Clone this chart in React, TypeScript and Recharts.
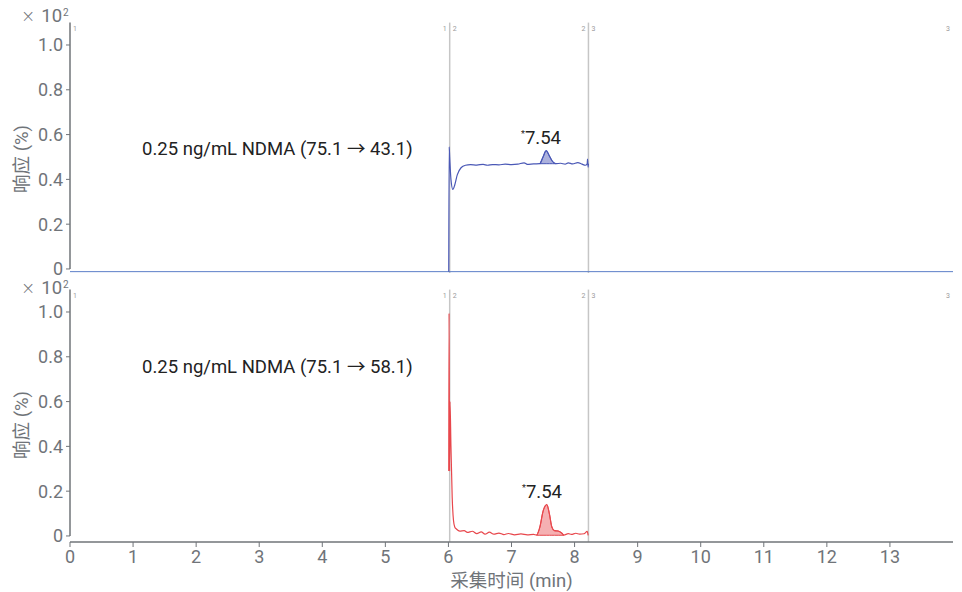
import React from 'react';
import { ComposedChart, Line, Area, XAxis, YAxis, ReferenceLine } from 'recharts';

const xTicks = [0, 1, 2, 3, 4, 5, 6, 7, 8, 9, 10, 11, 12, 13];
const yTicks = [0, 0.2, 0.4, 0.6, 0.8, 1.0];
const windowStart = 6.02;
const windowEnd = 8.22;
const peakRT = '7.54';
const titleTop = '0.25 ng/mL NDMA (75.1 → 43.1)';
const titleBottom = '0.25 ng/mL NDMA (75.1 → 58.1)';
const xLabel = '采集时间 (min)';
const yLabel = '响应 (%)';

// Top trace (75.1 -> 43.1)
const topTime = [6.005, 6.012, 6.02, 6.04, 6.07, 6.1, 6.14, 6.2, 6.27, 6.35, 6.45, 6.55, 6.62, 6.7, 6.8, 6.9, 7.0, 7.1, 7.2, 7.25, 7.35, 7.45, 7.5, 7.55, 7.6, 7.65, 7.7, 7.78, 7.85, 7.9, 7.97, 8.05, 8.12, 8.17, 8.2, 8.205, 8.215, 8.22];
const topResp = [-0.012, 0.545, 0.5, 0.4, 0.355, 0.375, 0.42, 0.452, 0.463, 0.466, 0.464, 0.467, 0.463, 0.466, 0.465, 0.468, 0.466, 0.468, 0.474, 0.467, 0.469, 0.47, 0.5, 0.528, 0.505, 0.48, 0.47, 0.472, 0.468, 0.474, 0.469, 0.475, 0.468, 0.463, 0.47, 0.49, 0.455, 0.47];
const topPeakTime = [7.45, 7.5, 7.55, 7.6, 7.65, 7.7];
const topPeakResp = [0.47, 0.5, 0.528, 0.505, 0.48, 0.47];
const topPeakBase = 0.47;
const topBaseline = -0.012;

// Bottom trace (75.1 -> 58.1)
const botTime = [6.005, 6.01, 6.018, 6.025, 6.04, 6.06, 6.08, 6.1, 6.13, 6.18, 6.25, 6.3, 6.38, 6.45, 6.52, 6.58, 6.65, 6.72, 6.8, 6.88, 6.95, 7.05, 7.15, 7.25, 7.35, 7.4, 7.45, 7.5, 7.56, 7.6, 7.64, 7.68, 7.74, 7.8, 7.83, 7.9, 7.95, 8.02, 8.08, 8.15, 8.2, 8.215];
const botResp = [0.29, 0.995, 0.29, 0.6, 0.4, 0.17, 0.07, 0.04, 0.03, 0.022, 0.024, 0.016, 0.021, 0.01, 0.018, 0.008, 0.017, 0.008, 0.013, 0.006, 0.011, 0.005, 0.009, 0.005, 0.007, 0.004, 0.04, 0.11, 0.14, 0.1, 0.04, 0.024, 0.022, 0.012, 0.004, 0.01, 0.007, 0.012, 0.008, 0.01, 0.02, 0.003];
const botPeakTime = [7.4, 7.45, 7.5, 7.56, 7.6, 7.64, 7.68, 7.74, 7.8, 7.83];
const botPeakResp = [0.004, 0.04, 0.11, 0.14, 0.1, 0.04, 0.024, 0.022, 0.012, 0.004];
const botPeakBase = 0.003;

const topData = topTime.map((x, i) => ({ x, y: topResp[i] }));
const topPeak = topPeakTime.map((x, i) => ({ x, r: [topPeakBase, topPeakResp[i]] }));
const botData = botTime.map((x, i) => ({ x, y: botResp[i] }));
const botPeak = botPeakTime.map((x, i) => ({ x, r: [botPeakBase, botPeakResp[i]] }));

const FONT = "Roboto, 'Noto Sans CJK SC', sans-serif";
const AXIS = '#707479';
const GRID = '#c6c6c6';
const MARK = { fontSize: 7, fill: '#9a9a9a', fontFamily: FONT };

const fmtY = (v: number) => (v === 0 ? '0' : v.toFixed(1));

function markers() {
  return [
    <ReferenceLine key="m0" x={0} stroke="none" label={{ value: '1', position: 'insideTopLeft', offset: 3, ...MARK }} />,
    <ReferenceLine key="m1a" x={windowStart} stroke={GRID} strokeWidth={1.5} label={{ value: '1', position: 'insideTopRight', offset: 3, ...MARK }} />,
    <ReferenceLine key="m1b" x={windowStart} stroke="none" label={{ value: '2', position: 'insideTopLeft', offset: 3, ...MARK }} />,
    <ReferenceLine key="m2a" x={windowEnd} stroke={GRID} strokeWidth={1.5} label={{ value: '2', position: 'insideTopRight', offset: 3, ...MARK }} />,
    <ReferenceLine key="m2b" x={windowEnd} stroke="none" label={{ value: '3', position: 'insideTopLeft', offset: 3, ...MARK }} />,
    <ReferenceLine key="m3" x={14} stroke="none" label={{ value: '3', position: 'insideTopRight', offset: 3, ...MARK }} />,
    <ReferenceLine key="yax" segment={[{ x: 0, y: 0 }, { x: 0, y: 1.1 }]} stroke={AXIS} strokeWidth={1.5} />,
  ];
}

const tickStyle = { fontSize: 18, fill: AXIS, fontFamily: FONT };

function Exp({ top }: { top: number }) {
  return (
    <div style={{ position: 'absolute', left: 21, top, height: 14, fontSize: 18.5, lineHeight: '14px', color: AXIS, fontFamily: FONT, whiteSpace: 'nowrap' }}>
      <span style={{ fontFamily: "'DejaVu Sans', sans-serif", fontSize: 17, fontWeight: 300 }}>×</span>
      <span style={{ marginLeft: 6 }}>10</span>
      <span style={{ fontSize: 10, lineHeight: '8px', verticalAlign: 6, marginLeft: 1 }}>2</span>
    </div>
  );
}

function YLab({ cy }: { cy: number }) {
  return (
    <div style={{ position: 'absolute', left: 20, top: cy, transform: 'translate(-50%, -50%) rotate(-90deg)', fontSize: 18.5, color: AXIS, fontFamily: FONT, whiteSpace: 'nowrap' }}>
      {yLabel}
    </div>
  );
}

function Title({ text, cy }: { text: string; cy: number }) {
  return (
    <div style={{ position: 'absolute', left: 142, top: cy - 11, fontSize: 18.5, lineHeight: '22px', color: '#222', fontFamily: FONT, whiteSpace: 'nowrap' }}>
      {text}
    </div>
  );
}

function RT({ cx, cy }: { cx: number; cy: number }) {
  return (
    <div style={{ position: 'absolute', left: cx, top: cy - 11, transform: 'translateX(-50%)', fontSize: 18.5, lineHeight: '22px', color: '#222', fontFamily: FONT, whiteSpace: 'nowrap' }}>
      <span style={{ fontSize: 9, position: 'relative', top: -7 }}>*</span>{peakRT}
    </div>
  );
}

export default function App() {
  return (
    <div style={{ position: 'absolute', left: 0, top: 0, width: 962, height: 592, background: '#fff', fontFamily: FONT }}>
      <div style={{ position: 'absolute', left: 0, top: 0 }}>
        <ComposedChart width={962} height={280} margin={{ top: 22.6, right: 9, bottom: 7, left: 8 }}>
          <XAxis type="number" dataKey="x" domain={[0, 14]} ticks={xTicks} height={0} tick={false} tickLine={false} axisLine={{ stroke: '#5b7ec8', strokeWidth: 1.5 }} allowDataOverflow />
          <YAxis type="number" domain={[-0.018, 1.1]} ticks={yTicks} width={62} tickFormatter={fmtY} tick={tickStyle} tickSize={4} tickMargin={3} axisLine={false} tickLine={{ stroke: AXIS }} allowDataOverflow />
          {markers()}
          <Line data={[{ x: 0, y: topBaseline }, { x: 14, y: topBaseline }]} dataKey="y" stroke="#5b7ec8" strokeWidth={1} dot={false} activeDot={false} isAnimationActive={false} />
          <Area data={topPeak} dataKey="r" type="monotone" stroke="#4654b4" strokeWidth={1} fill="#a3a9d9" fillOpacity={0.9} dot={false} activeDot={false} isAnimationActive={false} />
          <Line data={topData} dataKey="y" type="monotone" stroke="#4a58b6" strokeWidth={1.2} dot={false} activeDot={false} isAnimationActive={false} />
        </ComposedChart>
      </div>
      <div style={{ position: 'absolute', left: 0, top: 280 }}>
        <ComposedChart width={962} height={312} margin={{ top: 9.6, right: 9, bottom: 0, left: 8 }}>
          <XAxis type="number" dataKey="x" domain={[0, 14]} ticks={xTicks} height={50} tick={tickStyle} tickSize={5} tickMargin={3} axisLine={{ stroke: AXIS, strokeWidth: 1.5 }} tickLine={{ stroke: AXIS }} label={{ value: xLabel, position: 'insideBottom', offset: 5, fontSize: 18.5, fill: AXIS, fontFamily: FONT }} allowDataOverflow />
          <YAxis type="number" domain={[-0.027, 1.1]} ticks={yTicks} width={62} tickFormatter={fmtY} tick={tickStyle} tickSize={4} tickMargin={3} axisLine={false} tickLine={{ stroke: AXIS }} allowDataOverflow />
          {markers()}
          <Area data={botPeak} dataKey="r" type="monotone" stroke="#e5484d" strokeWidth={1} fill="#f4a7aa" fillOpacity={0.9} dot={false} activeDot={false} isAnimationActive={false} />
          <Line data={botData} dataKey="y" type="monotone" stroke="#e8474c" strokeWidth={1.2} dot={false} activeDot={false} isAnimationActive={false} />
        </ComposedChart>
      </div>
      <Exp top={9} />
      <Exp top={281} />
      <YLab cy={159} />
      <YLab cy={425} />
      <Title text={titleTop} cy={149} />
      <Title text={titleBottom} cy={367} />
      <RT cx={541} cy={138} />
      <RT cx={542} cy={492} />
    </div>
  );
}
